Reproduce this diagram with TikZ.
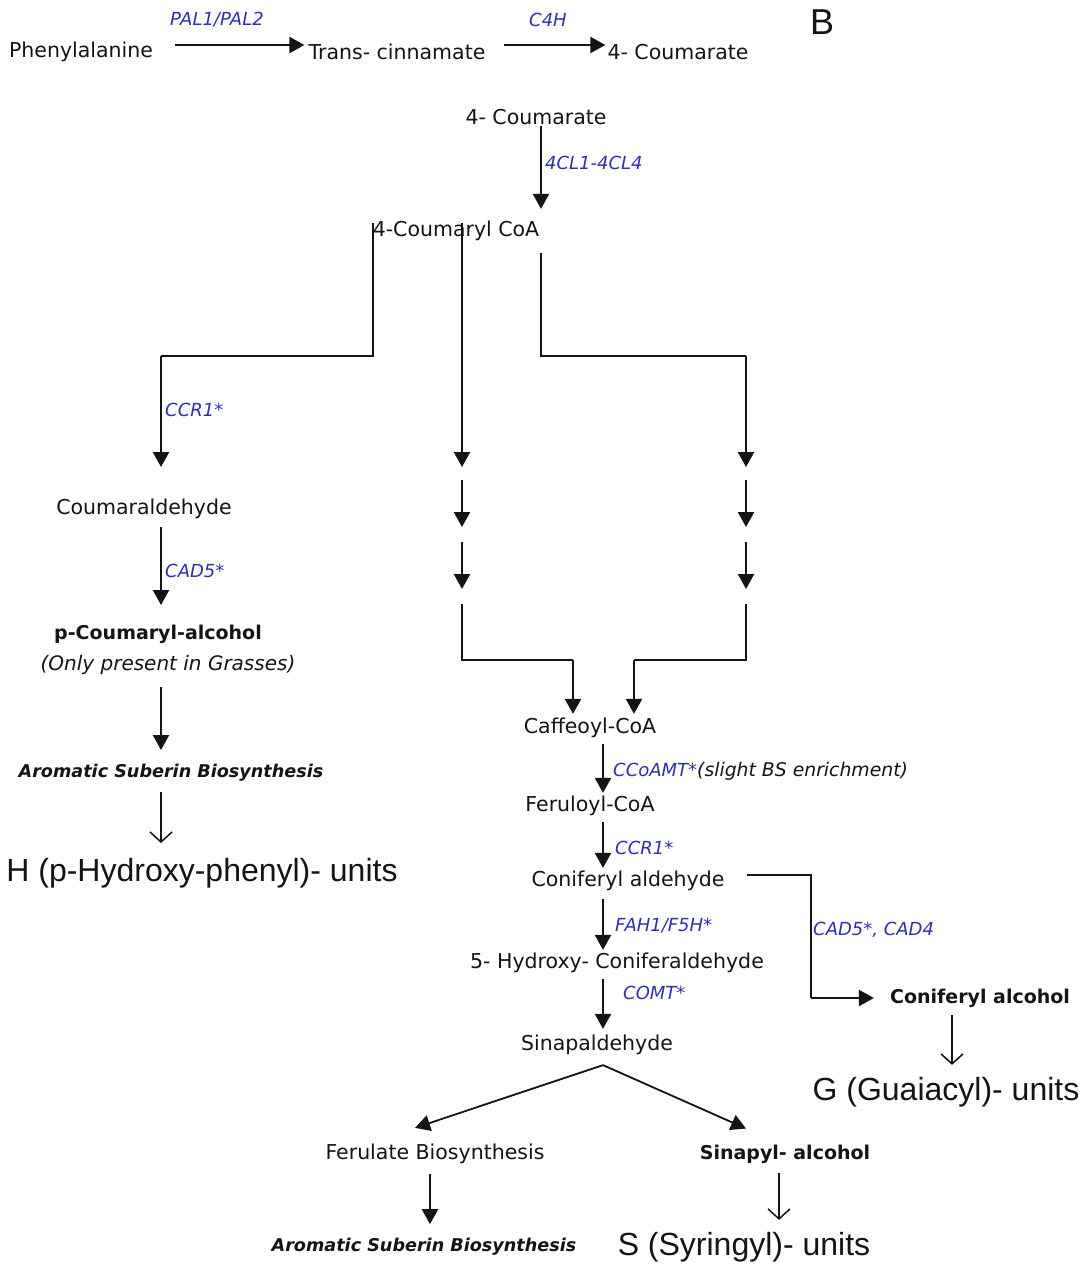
\documentclass[tikz,border=0pt]{standalone}
\usepackage{fontspec}
\setmainfont{DejaVu Sans}
\newfontfamily\bigfont{Liberation Sans}
\usetikzlibrary{arrows.meta}
\definecolor{enz}{RGB}{48,48,175}
\definecolor{ink}{RGB}{20,20,20}
\tikzset{
  txt/.style={font=\fontsize{20.5}{24}\selectfont, text=ink, inner sep=0pt},
  bld/.style={font=\fontsize{19}{22}\selectfont\bfseries, text=ink, inner sep=0pt},
  bit/.style={font=\fontsize{17.6}{22}\selectfont\bfseries\itshape, text=ink, inner sep=0pt},
  itx/.style={font=\fontsize{20}{22}\selectfont\itshape, text=ink, inner sep=0pt},
  lab/.style={font=\fontsize{18}{20}\selectfont\itshape, text=enz, inner sep=0pt},
  big/.style={font=\bigfont\fontsize{32}{36}\selectfont, text=ink, inner sep=0pt},
  fa/.style={draw=ink, line width=2.3pt, -{Triangle[length=15pt,width=16pt]}},
  ln/.style={draw=ink, line width=2.3pt},
  ta/.style={draw=ink, line width=1.8pt, -{Triangle[length=15pt,width=16pt]}},
  oa/.style={draw=ink, line width=1.5pt, -{Straight Barb[length=10pt,width=22pt,line width=1.5pt]}},
}
\begin{document}
\begin{tikzpicture}[x=1pt,y=-1pt]
\useasboundingbox[fill=white] (0,0) rectangle (1092,1264);
% column coordinates
\coordinate (xL) at (161,0);
\coordinate (xL2) at (373,0);
\coordinate (xM) at (462,0);
\coordinate (xA) at (541,0);
\coordinate (xR) at (746,0);
\coordinate (xC) at (603,0);
\coordinate (xG) at (811,0);
\coordinate (xG2) at (952,0);
\coordinate (xS) at (779,0);
\coordinate (xF) at (430,0);
\coordinate (xK1) at (573,0);
\coordinate (xK2) at (634,0);
% row coordinates
\coordinate (yJ) at (0,356);
\coordinate (yT) at (0,467);
\coordinate (yCa) at (0,605);
\coordinate (yPa) at (0,750);
\coordinate (yAs) at (0,843);
\coordinate (m2a) at (0,480); \coordinate (m2b) at (0,527);
\coordinate (m3a) at (0,542); \coordinate (m3b) at (0,589);
\coordinate (m4a) at (0,604); \coordinate (yK) at (0,660);
\coordinate (yG1) at (0,875);
% top row
\node[txt] (phe) at (81,52) {Phenylalanine};
\node[txt] (trans) at (397,52) {Trans- cinnamate};
\node[txt] (coum1) at (678,52) {4- Coumarate};
\node[font=\bigfont\fontsize{36}{40}\selectfont, text=ink, inner sep=0pt] (B) at (822,22) {B};
\node[lab] (pal) at (217,20) {PAL1/PAL2};
\node[lab] (c4h) at (548,20) {C4H};
\draw[fa] ([xshift=22pt,yshift=7pt]phe.east) -- ([xshift=-4pt,yshift=7pt]trans.west);
\draw[fa] ([xshift=18pt,yshift=7pt]trans.east) -- ([xshift=-2pt,yshift=7pt]coum1.west);
% second part
\node[txt] (coum2) at (536,117) {4- Coumarate};
\node[txt] (coa) at (456,231) {4-Coumaryl CoA};
\node[lab, anchor=west] (cl4) at (545,163) {4CL1-4CL4};
\draw[fa] ([yshift=-1pt]coum2.south -| xA) -- ([yshift=12pt]coa.north -| xA);
% left branch
\draw[ln] ([yshift=-2pt]coa.north -| xL2) -- (yJ -| xL2) -- (yJ -| xL);
\draw[fa] (yJ -| xL) -- (yT -| xL);
\node[lab, anchor=west] (ccr1a) at (165,410) {CCR1*};
\node[txt] (cald) at (144,509) {Coumaraldehyde};
\draw[fa] ([yshift=-8pt]cald.south -| xL) -- (yCa -| xL);
\node[lab, anchor=west] (cad5a) at (165,571) {CAD5*};
\node[bld] (pca) at (158,634) {p-Coumaryl-alcohol};
\node[itx] (only) at (168,665) {(Only present in Grasses)};
\draw[fa] ([yshift=-12pt]only.south -| xL) -- (yPa -| xL);
\node[bit] (asb1) at (171,773) {Aromatic Suberin Biosynthesis};
\draw[oa] ([yshift=-10pt]asb1.south -| xL) -- (yAs -| xL);
\node[big] (hun) at (202,873) {H (p-Hydroxy-phenyl)- units};
% middle column
\draw[fa] ([yshift=-2pt]coa.north -| xM) -- (yT -| xM);
\draw[fa] (m2a -| xM) -- (m2b -| xM);
\draw[fa] (m3a -| xM) -- (m3b -| xM);
\draw[ln] ([yshift=-12pt]coa.south -| xA) -- (yJ -| xA) -- (yJ -| xR);
\draw[fa] (yJ -| xR) -- (yT -| xR);
\draw[fa] (m2a -| xR) -- (m2b -| xR);
\draw[fa] (m3a -| xR) -- (m3b -| xR);
\node[txt] (caff) at (590,728) {Caffeoyl-CoA};
\draw[ln] (m4a -| xM) -- (yK -| xM) -- (yK -| xK1);
\draw[fa] (yK -| xK1) -- ([yshift=4pt]caff.north -| xK1);
\draw[ln] (m4a -| xR) -- (yK -| xR) -- (yK -| xK2);
\draw[fa] (yK -| xK2) -- ([yshift=4pt]caff.north -| xK2);
% center chain
\node[txt] (fer) at (590,806) {Feruloyl-CoA};
\node[txt] (conald) at (628,881) {Coniferyl aldehyde};
\node[txt] (hyd) at (617,963) {5- Hydroxy- Coniferaldehyde};
\node[txt] (sinald) at (597,1045) {Sinapaldehyde};
\draw[fa] ([yshift=-6pt]caff.south -| xC) -- ([yshift=3pt]fer.north -| xC);
\draw[fa] ([yshift=-6pt]fer.south -| xC) -- ([yshift=3pt]conald.north -| xC);
\draw[fa] ([yshift=-8pt]conald.south -| xC) -- ([yshift=3pt]hyd.north -| xC);
\draw[fa] ([yshift=-6pt]hyd.south -| xC) -- ([yshift=6pt]sinald.north -| xC);
\node[lab, anchor=west] (ccoamt) at (613,771) {CCoAMT*\textcolor{ink}{\fontsize{18.8}{20}\selectfont(slight BS enrichment)}};
\node[lab, anchor=west] (ccr1b) at (615,848) {CCR1*};
\node[lab, anchor=west] (fah) at (615,926) {FAH1/F5H*};
\node[lab, anchor=west] (comt) at (623,993) {COMT*};
% G branch
\node[bld] (conalc) at (980,998) {Coniferyl alcohol};
\draw[ln] ([xshift=22pt]conald.east |- yG1) -- (yG1 -| xG) -- (conalc.west -| xG);
\draw[fa] (conalc.west -| xG) -- ([xshift=-16pt]conalc.west);
\node[lab, anchor=west] (cad5b) at (813,930) {CAD5*, CAD4};
\node[big] (gun) at (946,1092) {G (Guaiacyl)- units};
\draw[oa] ([yshift=-8pt]conalc.south -| xG2) -- ([yshift=12pt]gun.north -| xG2);
% bottom
\node[txt] (ferb) at (435,1154) {Ferulate Biosynthesis};
\node[bld] (sinalc) at (785,1154) {Sinapyl- alcohol};
\path ([yshift=-10pt]sinald.south -| xC) coordinate (sv);
\draw[ta] (sv) -- ([xshift=-20pt,yshift=16pt]ferb.north);
\draw[ta] (sv) -- ([xshift=-39pt,yshift=16pt]sinalc.north);
\node[bit] (asb2) at (424,1247) {Aromatic Suberin Biosynthesis};
\node[big] (sun) at (744,1247) {S (Syringyl)- units};
\draw[fa] ([yshift=-10pt]ferb.south -| xF) -- ([yshift=14pt]asb2.north -| xF);
\draw[oa] ([yshift=-10pt]sinalc.south -| xS) -- ([yshift=12pt]sun.north -| xS);
\end{tikzpicture}
\end{document}
